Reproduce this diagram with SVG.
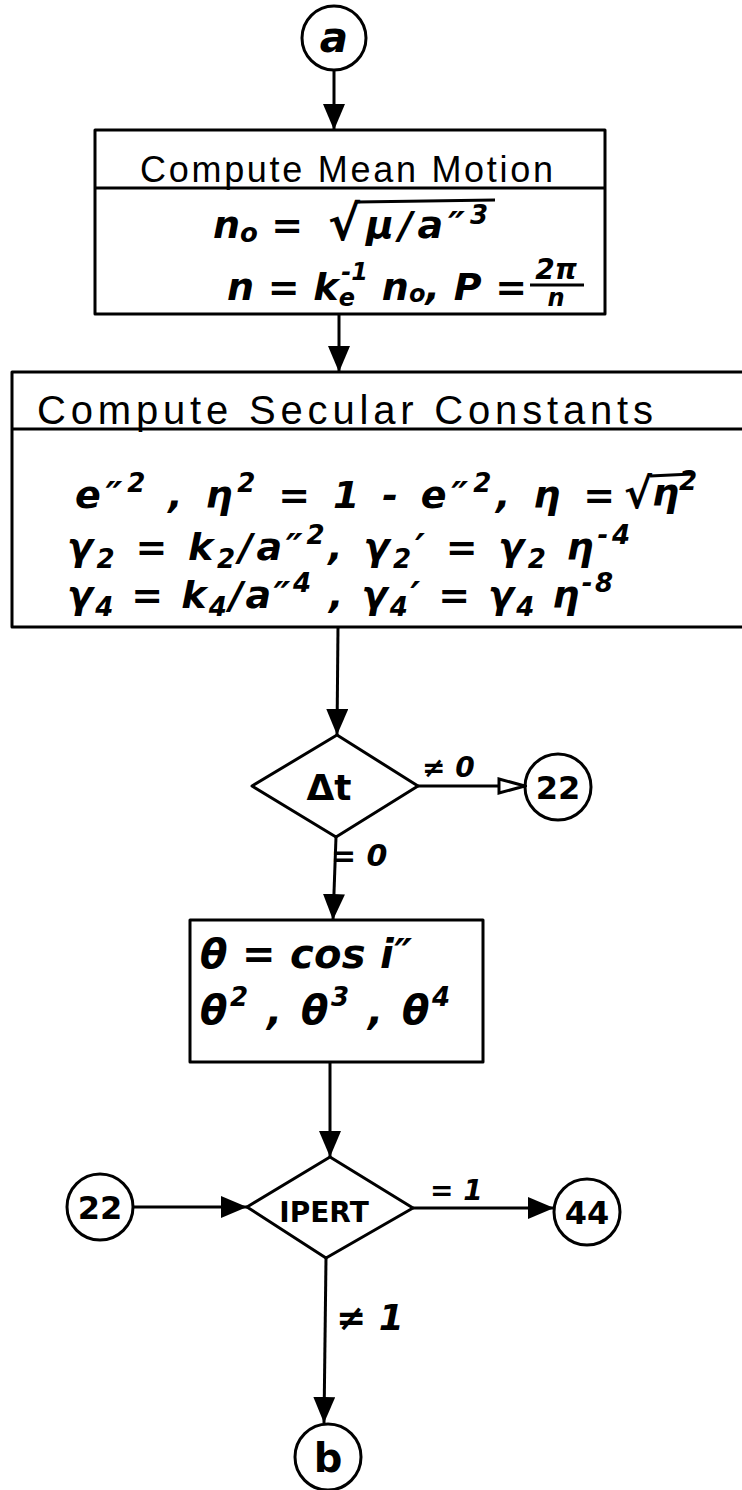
<svg xmlns="http://www.w3.org/2000/svg" width="742" height="1490" viewBox="0 0 742 1490">
<defs>
<style>
.sh{fill:none;stroke:#000;stroke-width:3;stroke-linejoin:round}
.cn{fill:none;stroke:#000;stroke-width:3}
.hd{font-family:"Liberation Sans",Arial,sans-serif;fill:#000}
.mt{font-family:"DejaVu Sans","Liberation Sans",sans-serif;font-style:italic;font-weight:bold;fill:#000}
.lb{font-family:"DejaVu Sans","Liberation Sans",sans-serif;font-weight:bold;fill:#000}
.lbl{font-family:"DejaVu Sans","Liberation Sans",sans-serif;font-style:italic;font-weight:bold;fill:#000}
</style>
<marker id="af" markerUnits="userSpaceOnUse" markerWidth="26" markerHeight="22" refX="26" refY="11" orient="auto"><path d="M0,0 L26,11 L0,22 z" fill="#000"/></marker>
<marker id="ah" markerUnits="userSpaceOnUse" markerWidth="30" markerHeight="20" refX="28" refY="10" orient="auto"><path d="M2,3 L28,10 L2,17 z" fill="#fff" stroke="#000" stroke-width="3"/></marker>
</defs>
<rect width="742" height="1490" fill="#fff"/>

<g id="connectors">
<line class="cn" x1="334" y1="71" x2="334" y2="130" marker-end="url(#af)"/>
<line class="cn" x1="339" y1="314" x2="339" y2="372" marker-end="url(#af)"/>
<line class="cn" x1="338" y1="627" x2="337" y2="735" marker-end="url(#af)"/>
<line class="cn" x1="418" y1="786" x2="525" y2="786" marker-end="url(#ah)"/>
<line class="cn" x1="336" y1="837" x2="333" y2="920" marker-end="url(#af)"/>
<line class="cn" x1="330" y1="1062" x2="330" y2="1157" marker-end="url(#af)"/>
<line class="cn" x1="133" y1="1207" x2="247" y2="1207" marker-end="url(#af)"/>
<line class="cn" x1="413" y1="1208" x2="554" y2="1208" marker-end="url(#af)"/>
<line class="cn" x1="326" y1="1258" x2="324" y2="1423" marker-end="url(#af)"/>
<text class="lbl" x="422" y="777" font-size="28">≠ 0</text>
<text class="lbl" x="331" y="866" font-size="30">= 0</text>
<text class="lbl" x="430" y="1200" font-size="28">= 1</text>
<text class="lbl" x="336" y="1330" font-size="36">≠ 1</text>
</g>

<g id="node-a">
<circle class="sh" cx="334" cy="38" r="32"/>
<text class="mt" x="334" y="52" font-size="42" text-anchor="middle">a</text>
</g>

<g id="node-mean-motion">
<rect class="sh" x="95" y="130" width="510" height="184"/>
<line class="sh" x1="95" y1="188" x2="605" y2="188"/>
<text class="hd" x="140" y="182" font-size="36" textLength="413" lengthAdjust="spacing">Compute Mean Motion</text>
<text class="mt" x="213" y="238" font-size="38">n<tspan font-size="26" dy="4">o</tspan><tspan dy="-4"> =</tspan></text>
<text class="mt" x="328" y="240" font-size="48">√</text>
<text class="mt" x="366" y="238" font-size="38" textLength="122" lengthAdjust="spacing">μ/a″<tspan font-size="26" dy="-14">3</tspan></text>
<line class="sh" x1="357" y1="202" x2="495" y2="200"/>
<text class="mt" x="227" y="300" font-size="38" textLength="300" lengthAdjust="spacing">n = k<tspan font-size="24" dy="6">e</tspan><tspan font-size="24" dx="-14" dy="-26">-1</tspan><tspan dy="20"> n</tspan><tspan font-size="24" dy="2">o</tspan><tspan dy="-2">, P =</tspan></text>
<text class="mt" x="556" y="279" font-size="28" text-anchor="middle">2π</text>
<line class="sh" x1="530" y1="285" x2="584" y2="285"/>
<text class="mt" x="556" y="306" font-size="24" text-anchor="middle">n</text>
</g>

<g id="node-secular">
<rect class="sh" x="12" y="372" width="740" height="255"/>
<line class="sh" x1="12" y1="429" x2="745" y2="429"/>
<text class="hd" x="37" y="424" font-size="40" textLength="616" lengthAdjust="spacing">Compute Secular Constants</text>
<text class="mt" x="75" y="508" font-size="38" textLength="540" lengthAdjust="spacing">e″<tspan font-size="26" dy="-16">2</tspan><tspan dy="16"> , η</tspan><tspan font-size="26" dy="-16">2</tspan><tspan dy="16"> = 1 - e″</tspan><tspan font-size="26" dy="-16">2</tspan><tspan dy="16">, η =</tspan></text>
<text class="mt" x="624" y="508" font-size="42">√</text>
<text class="mt" x="652" y="506" font-size="38">η<tspan font-size="26" dy="-16">2</tspan></text>
<line class="sh" x1="650" y1="476" x2="692" y2="474"/>
<text class="mt" x="67" y="560" font-size="38" textLength="563" lengthAdjust="spacing">γ<tspan font-size="26" dy="8">2</tspan><tspan dy="-8"> = k</tspan><tspan font-size="26" dy="8">2</tspan><tspan dy="-8">/a″</tspan><tspan font-size="26" dy="-16">2</tspan><tspan dy="16">, γ</tspan><tspan font-size="26" dy="8">2</tspan><tspan dy="-8">′ = γ</tspan><tspan font-size="26" dy="8">2</tspan><tspan dy="-8"> η</tspan><tspan font-size="26" dy="-16">-4</tspan></text>
<text class="mt" x="67" y="608" font-size="38" textLength="546" lengthAdjust="spacing">γ<tspan font-size="26" dy="8">4</tspan><tspan dy="-8"> = k</tspan><tspan font-size="26" dy="8">4</tspan><tspan dy="-8">/a″</tspan><tspan font-size="26" dy="-16">4</tspan><tspan dy="16"> , γ</tspan><tspan font-size="26" dy="8">4</tspan><tspan dy="-8">′ = γ</tspan><tspan font-size="26" dy="8">4</tspan><tspan dy="-8"> η</tspan><tspan font-size="26" dy="-16">-8</tspan></text>
</g>

<g id="node-dt">
<polygon class="sh" points="337,735 418,786 336,837 252,786"/>
<text class="lb" x="329" y="800" font-size="36" text-anchor="middle">Δt</text>
</g>

<g id="node-22-right">
<circle class="sh" cx="558" cy="787" r="33"/>
<text class="lb" x="558" y="799" font-size="32" text-anchor="middle">22</text>
</g>

<g id="node-theta">
<rect class="sh" x="190" y="920" width="293" height="142"/>
<text class="mt" x="200" y="968" font-size="40" textLength="212" lengthAdjust="spacing">θ = cos i″</text>
<text class="mt" x="200" y="1024" font-size="40" textLength="250" lengthAdjust="spacing">θ<tspan font-size="26" dy="-18">2</tspan><tspan dy="18"> , θ</tspan><tspan font-size="26" dy="-18">3</tspan><tspan dy="18"> , θ</tspan><tspan font-size="26" dy="-18">4</tspan></text>
</g>

<g id="node-ipert">
<polygon class="sh" points="330,1157 413,1208 326,1258 247,1207"/>
<text class="lb" x="324" y="1222" font-size="28" text-anchor="middle">IPERT</text>
</g>

<g id="node-22-left">
<circle class="sh" cx="100" cy="1207" r="33"/>
<text class="lb" x="100" y="1219" font-size="32" text-anchor="middle">22</text>
</g>

<g id="node-44">
<circle class="sh" cx="587" cy="1212" r="33"/>
<text class="lb" x="587" y="1224" font-size="32" text-anchor="middle">44</text>
</g>

<g id="node-b">
<circle class="sh" cx="328" cy="1457" r="33"/>
<text class="lb" x="328" y="1472" font-size="40" text-anchor="middle">b</text>
</g>
</svg>
